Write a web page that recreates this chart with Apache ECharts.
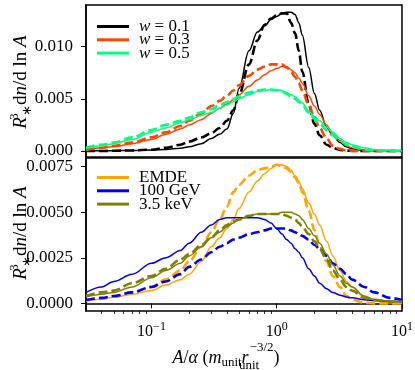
<!DOCTYPE html>
<html>
<head>
<meta charset="utf-8">
<script src="https://cdn.jsdelivr.net/npm/echarts@6/dist/echarts.min.js"></script>
<style>
html, body { margin: 0; padding: 0; background: #fff; }
#chart { width: 415px; height: 370px; }
</style>
</head>
<body>
<div id="chart"></div>
<script>
// A/alpha sample points (shared by all curves)
const A = [0.03, 0.04, 0.05, 0.07, 0.1, 0.13, 0.17, 0.2, 0.25, 0.3, 0.35, 0.4, 0.45, 0.5, 0.6, 0.7, 0.8, 0.9, 1.0,
  1.1, 1.2, 1.3, 1.4, 1.5, 1.6, 1.8, 2.0, 2.2, 2.5, 2.8, 3.2, 3.6, 4.0, 5.0, 6.0, 8.0, 10]

// top panel: w = 0.1 / 0.3 / 0.5 (solid and dashed)
const w01 = [0.00002, 0.00002, 0.00003, 0.00005, 0.0001, 0.00015, 0.00025, 0.0004, 0.0007, 0.0012, 0.0016, 0.0021, 0.0036, 0.0060, 0.0096, 0.0114, 0.0120, 0.0126, 0.0129,
  0.0132, 0.0133, 0.0133, 0.0131, 0.0123, 0.0111, 0.0080, 0.0055, 0.0039, 0.0023, 0.0015, 0.0008, 0.0004, 0.0002, 0.00005, 0.00002, 0, 0]
const w01d = [0, 0, 0.00002, 0.00005, 0.00012, 0.0003, 0.0006, 0.0009, 0.0013, 0.0017, 0.0022, 0.0029, 0.0039, 0.0054, 0.0083, 0.0106, 0.0121, 0.0127, 0.0130,
  0.0132, 0.0132, 0.0123, 0.0113, 0.0096, 0.0076, 0.0045, 0.0026, 0.0015, 0.0006, 0.0003, 0.0001, 0.00003, 0, 0, 0, 0, 0]
const w03 = [0.0001, 0.0003, 0.0004, 0.0007, 0.0011, 0.0016, 0.0021, 0.0025, 0.0030, 0.0036, 0.0041, 0.0045, 0.0049, 0.0054, 0.0062, 0.0068, 0.0073, 0.0077, 0.0079,
  0.0081, 0.0081, 0.0078, 0.0075, 0.0070, 0.0065, 0.0053, 0.0043, 0.0035, 0.0025, 0.0016, 0.0010, 0.0005, 0.0003, 0.0001, 0.00003, 0, 0]
const w03d = [0.0001, 0.0003, 0.0005, 0.0008, 0.0013, 0.0018, 0.0024, 0.0029, 0.0036, 0.0043, 0.0048, 0.0053, 0.0058, 0.0063, 0.0072, 0.0078, 0.0081, 0.0083, 0.0083,
  0.0083, 0.0080, 0.0076, 0.0071, 0.0065, 0.0058, 0.0044, 0.0032, 0.0022, 0.0012, 0.0005, 0.0002, 0.00005, 0.00002, 0, 0, 0, 0]
const w05 = [0.00025, 0.0005, 0.0007, 0.0011, 0.0018, 0.0022, 0.0027, 0.0030, 0.0034, 0.0037, 0.0041, 0.0044, 0.0047, 0.0050, 0.0054, 0.0057, 0.0058, 0.0059, 0.0059,
  0.0058, 0.0056, 0.0054, 0.0052, 0.0049, 0.0046, 0.0038, 0.0033, 0.0029, 0.0023, 0.0018, 0.0012, 0.0008, 0.0006, 0.0003, 0.00013, 0.00005, 0.00002]
const w05d = [0.0003, 0.0006, 0.0008, 0.0013, 0.0020, 0.0025, 0.0029, 0.0032, 0.0037, 0.0040, 0.0044, 0.0047, 0.0050, 0.0052, 0.0056, 0.0058, 0.0059, 0.0059, 0.0058,
  0.0057, 0.0055, 0.0052, 0.0050, 0.0047, 0.0044, 0.0037, 0.0031, 0.0026, 0.0020, 0.0015, 0.0010, 0.0006, 0.0004, 0.00015, 0.00006, 0.00002, 0]

// bottom panel: EMDE / 100 GeV / 3.5 keV (solid and dashed)
const emde = [0.00015, 0.00022, 0.00033, 0.0005, 0.0007, 0.0010, 0.0013, 0.0016, 0.0023, 0.0031, 0.0036, 0.0041, 0.0046, 0.0052, 0.0061, 0.0067, 0.0071, 0.0074, 0.0076,
  0.0076, 0.0075, 0.0073, 0.0070, 0.0067, 0.0063, 0.0055, 0.0049, 0.0043, 0.0034, 0.0026, 0.0018, 0.0012, 0.0009, 0.0003, 0.00015, 0.00003, 0]
const emded = [0.00015, 0.00025, 0.0004, 0.0006, 0.0009, 0.0013, 0.0018, 0.0023, 0.0031, 0.0039, 0.0046, 0.0053, 0.0061, 0.0065, 0.0070, 0.0073, 0.0074, 0.0075, 0.0076,
  0.0075, 0.0074, 0.0072, 0.0069, 0.0066, 0.0061, 0.0051, 0.0040, 0.0032, 0.0023, 0.0015, 0.0009, 0.0004, 0.0002, 0.00003, 0, 0, 0]
const gev = [0.0006, 0.0009, 0.0012, 0.0016, 0.0022, 0.0025, 0.0029, 0.0033, 0.0039, 0.0043, 0.0046, 0.0047, 0.0047, 0.0047, 0.0047, 0.0047, 0.0046, 0.0044, 0.0041,
  0.0038, 0.0035, 0.0033, 0.0030, 0.0028, 0.0025, 0.0019, 0.0015, 0.0011, 0.0008, 0.0006, 0.00045, 0.00035, 0.0003, 0.0002, 0.00015, 0.0001, 0.0001]
const gevd = [0.00018, 0.0003, 0.0004, 0.0006, 0.0009, 0.0012, 0.0016, 0.0020, 0.0024, 0.0028, 0.0031, 0.0033, 0.0035, 0.0036, 0.0038, 0.0039, 0.0040, 0.0041, 0.0041,
  0.0041, 0.0041, 0.0040, 0.0039, 0.0038, 0.0037, 0.0035, 0.0032, 0.0030, 0.0026, 0.0022, 0.0019, 0.0016, 0.0013, 0.0009, 0.0006, 0.0003, 0.00018]
const kev = [0.00035, 0.0005, 0.0006, 0.0009, 0.0014, 0.0018, 0.0022, 0.0026, 0.0031, 0.0036, 0.0039, 0.0042, 0.0044, 0.0046, 0.0048, 0.0049, 0.0049, 0.0049, 0.0049,
  0.0050, 0.0050, 0.0050, 0.0049, 0.0048, 0.0046, 0.0041, 0.0037, 0.0033, 0.0027, 0.0021, 0.0015, 0.0011, 0.0009, 0.0004, 0.00022, 0.00012, 0.0001]
const kevd = [0.0004, 0.0006, 0.0007, 0.0011, 0.0015, 0.0019, 0.0024, 0.0027, 0.0032, 0.0036, 0.0040, 0.0043, 0.0045, 0.0046, 0.0048, 0.0049, 0.0049, 0.0049, 0.0049,
  0.0049, 0.0048, 0.0047, 0.0046, 0.0044, 0.0042, 0.0038, 0.0034, 0.0030, 0.0024, 0.0018, 0.0013, 0.0009, 0.0007, 0.0003, 0.00018, 0.0001, 0.00008]

const xMajor = [0.1, 1, 10]
const xMinor = [0.04, 0.05, 0.06, 0.07, 0.08, 0.09, 0.2, 0.3, 0.4, 0.5, 0.6, 0.7, 0.8, 0.9, 2, 3, 4, 5, 6, 7, 8, 9]
const yTopTicks = [0, 0.005, 0.01]
const yBotTicks = [0, 0.0025, 0.005, 0.0075]

const FONT = 'Liberation Serif'

function pts (ys) {
  return A.map((a, i) => [a, ys[i]])
}

function line (name, ys, color, dashed, panel) {
  return {
    name: name,
    type: 'line',
    xAxisIndex: panel,
    yAxisIndex: panel,
    data: pts(ys),
    symbol: 'none',
    smooth: 0.35,
    smoothMonotone: 'x',
    silent: true,
    lineStyle: {
      color: color,
      width: dashed ? 2.6 : 1.5,
      type: dashed ? [9, 4] : 'solid'
    },
    itemStyle: { color: color }
  }
}

function legend (names, top) {
  return {
    data: names,
    orient: 'vertical',
    left: 97,
    top: top,
    padding: 0,
    icon: 'rect',
    itemWidth: 32,
    itemHeight: 3,
    itemGap: -3.7,
    selectedMode: false,
    textStyle: {
      fontFamily: FONT,
      fontSize: 17,
      color: '#000',
      padding: [0, 0, 0, 5],
      rich: {
        i: { fontFamily: FONT, fontSize: 17, fontStyle: 'italic' },
        n: { fontFamily: FONT, fontSize: 17 }
      }
    },
    formatter: function (n) {
      if (n.indexOf('w = ') === 0) return '{i|w}{n| = ' + n.slice(4) + '}'
      return '{n|' + n + '}'
    }
  }
}

function yAxis (panel, min, max, ticks, digits) {
  return {
    gridIndex: panel,
    type: 'value',
    min: min,
    max: max,
    axisLine: { show: true, lineStyle: { color: '#000', width: 1.5 } },
    axisTick: { customValues: ticks, length: 5, lineStyle: { color: '#000', width: 1 } },
    axisLabel: {
      customValues: ticks,
      margin: 13,
      color: '#000',
      fontFamily: FONT,
      fontSize: 17,
      formatter: function (v) { return v.toFixed(digits) }
    },
    splitLine: { show: false }
  }
}

const yRich = {
  r: { fontFamily: FONT, fontSize: 19, fontStyle: 'italic', lineHeight: 26 },
  i: { fontFamily: FONT, fontSize: 19, fontStyle: 'italic', lineHeight: 26 },
  n: { fontFamily: FONT, fontSize: 19, lineHeight: 26 },
  p: { fontFamily: FONT, fontSize: 13, verticalAlign: 'top', width: 1 },
  q: { fontFamily: FONT, fontSize: 13, verticalAlign: 'bottom' }
}
const yTitle = '{r|R}{p|3}{q|∗}{n|d}{i|n}{n|/d ln }{i|A}'

const xRich = {
  i: { fontFamily: FONT, fontSize: 18, fontStyle: 'italic', lineHeight: 34 },
  n: { fontFamily: FONT, fontSize: 18, lineHeight: 34 },
  ms: { fontFamily: FONT, fontSize: 13, verticalAlign: 'middle', padding: [9, 0, 0, 0] },
  sb: { fontFamily: FONT, fontSize: 13, verticalAlign: 'bottom', width: 1, padding: [0, 0, 3, 0] },
  sp: { fontFamily: FONT, fontSize: 13, verticalAlign: 'top' }
}
const xTitle = '{i|A}{n|/}{i|α}{n| (}{i|m}{ms|unit}{i|r}{sb|unit}{sp|−3/2}{n|)}'

const chart = echarts.init(document.getElementById('chart'), null, { renderer: 'canvas' })

const option = {
  animation: false,
  backgroundColor: '#fff',
  textStyle: { fontFamily: FONT },
  grid: [
    { left: 86, width: 316, top: 5, height: 152, show: true, borderColor: '#000', borderWidth: 1.5, outerBoundsMode: 'none' },
    { left: 86, width: 316, top: 158, height: 153, show: true, borderColor: '#000', borderWidth: 1.5, outerBoundsMode: 'none' }
  ],
  legend: [
    legend(['w = 0.1', 'w = 0.3', 'w = 0.5'], 18),
    legend(['EMDE', '100 GeV', '3.5 keV'], 169)
  ],
  xAxis: [
    {
      gridIndex: 0, type: 'log', min: 0.03, max: 10,
      axisLine: { show: false }, axisTick: { show: false }, axisLabel: { show: false }, splitLine: { show: false }
    },
    {
      gridIndex: 1, type: 'log', min: 0.03, max: 10, position: 'bottom',
      axisLine: { show: true, lineStyle: { color: '#000', width: 1.5 } },
      axisTick: { customValues: xMajor, length: 5, lineStyle: { color: '#000', width: 1 } },
      axisLabel: {
        customValues: xMajor,
        margin: 10,
        color: '#000',
        formatter: function (v) {
          const e = Math.round(Math.log10(v))
          return '{b|10}{s|' + (e < 0 ? '−' + (-e) : e) + '}'
        },
        rich: {
          b: { fontFamily: FONT, fontSize: 16, lineHeight: 22 },
          s: { fontFamily: FONT, fontSize: 12, verticalAlign: 'top' }
        }
      },
      splitLine: { show: false }
    },
    {
      gridIndex: 1, type: 'log', min: 0.03, max: 10, position: 'bottom',
      axisLine: { show: false },
      axisTick: { customValues: xMinor, length: 3, lineStyle: { color: '#000', width: 0.8 } },
      axisLabel: { show: false },
      splitLine: { show: false }
    }
  ],
  yAxis: [
    yAxis(0, -0.00058, 0.0140, yTopTicks, 3),
    yAxis(1, -0.00042, 0.00797, yBotTicks, 4)
  ],
  graphic: [
    {
      type: 'text', x: 21, y: 82, rotation: Math.PI / 2, silent: true,
      style: { text: yTitle, rich: yRich, align: 'center', verticalAlign: 'middle', fill: '#000', fontFamily: FONT, fontSize: 19 }
    },
    {
      type: 'text', x: 21, y: 233, rotation: Math.PI / 2, silent: true,
      style: { text: yTitle, rich: yRich, align: 'center', verticalAlign: 'middle', fill: '#000', fontFamily: FONT, fontSize: 19 }
    },
    {
      type: 'text', x: 226, y: 358, silent: true,
      style: { text: xTitle, rich: xRich, align: 'center', verticalAlign: 'middle', fill: '#000', fontFamily: FONT, fontSize: 18 }
    }
  ],
  series: [
    line('w = 0.1', w01, '#000000', false, 0),
    line('w = 0.1 dashed', w01d, '#000000', true, 0),
    line('w = 0.3', w03, '#ff4500', false, 0),
    line('w = 0.3 dashed', w03d, '#ff4500', true, 0),
    line('w = 0.5', w05, '#00ff7f', false, 0),
    line('w = 0.5 dashed', w05d, '#00ff7f', true, 0),
    line('EMDE', emde, '#ffa500', false, 1),
    line('EMDE dashed', emded, '#ffa500', true, 1),
    line('100 GeV', gev, '#0000ff', false, 1),
    line('100 GeV dashed', gevd, '#0000ff', true, 1),
    line('3.5 keV', kev, '#808000', false, 1),
    line('3.5 keV dashed', kevd, '#808000', true, 1)
  ]
}

chart.setOption(option)
</script>
</body>
</html>
